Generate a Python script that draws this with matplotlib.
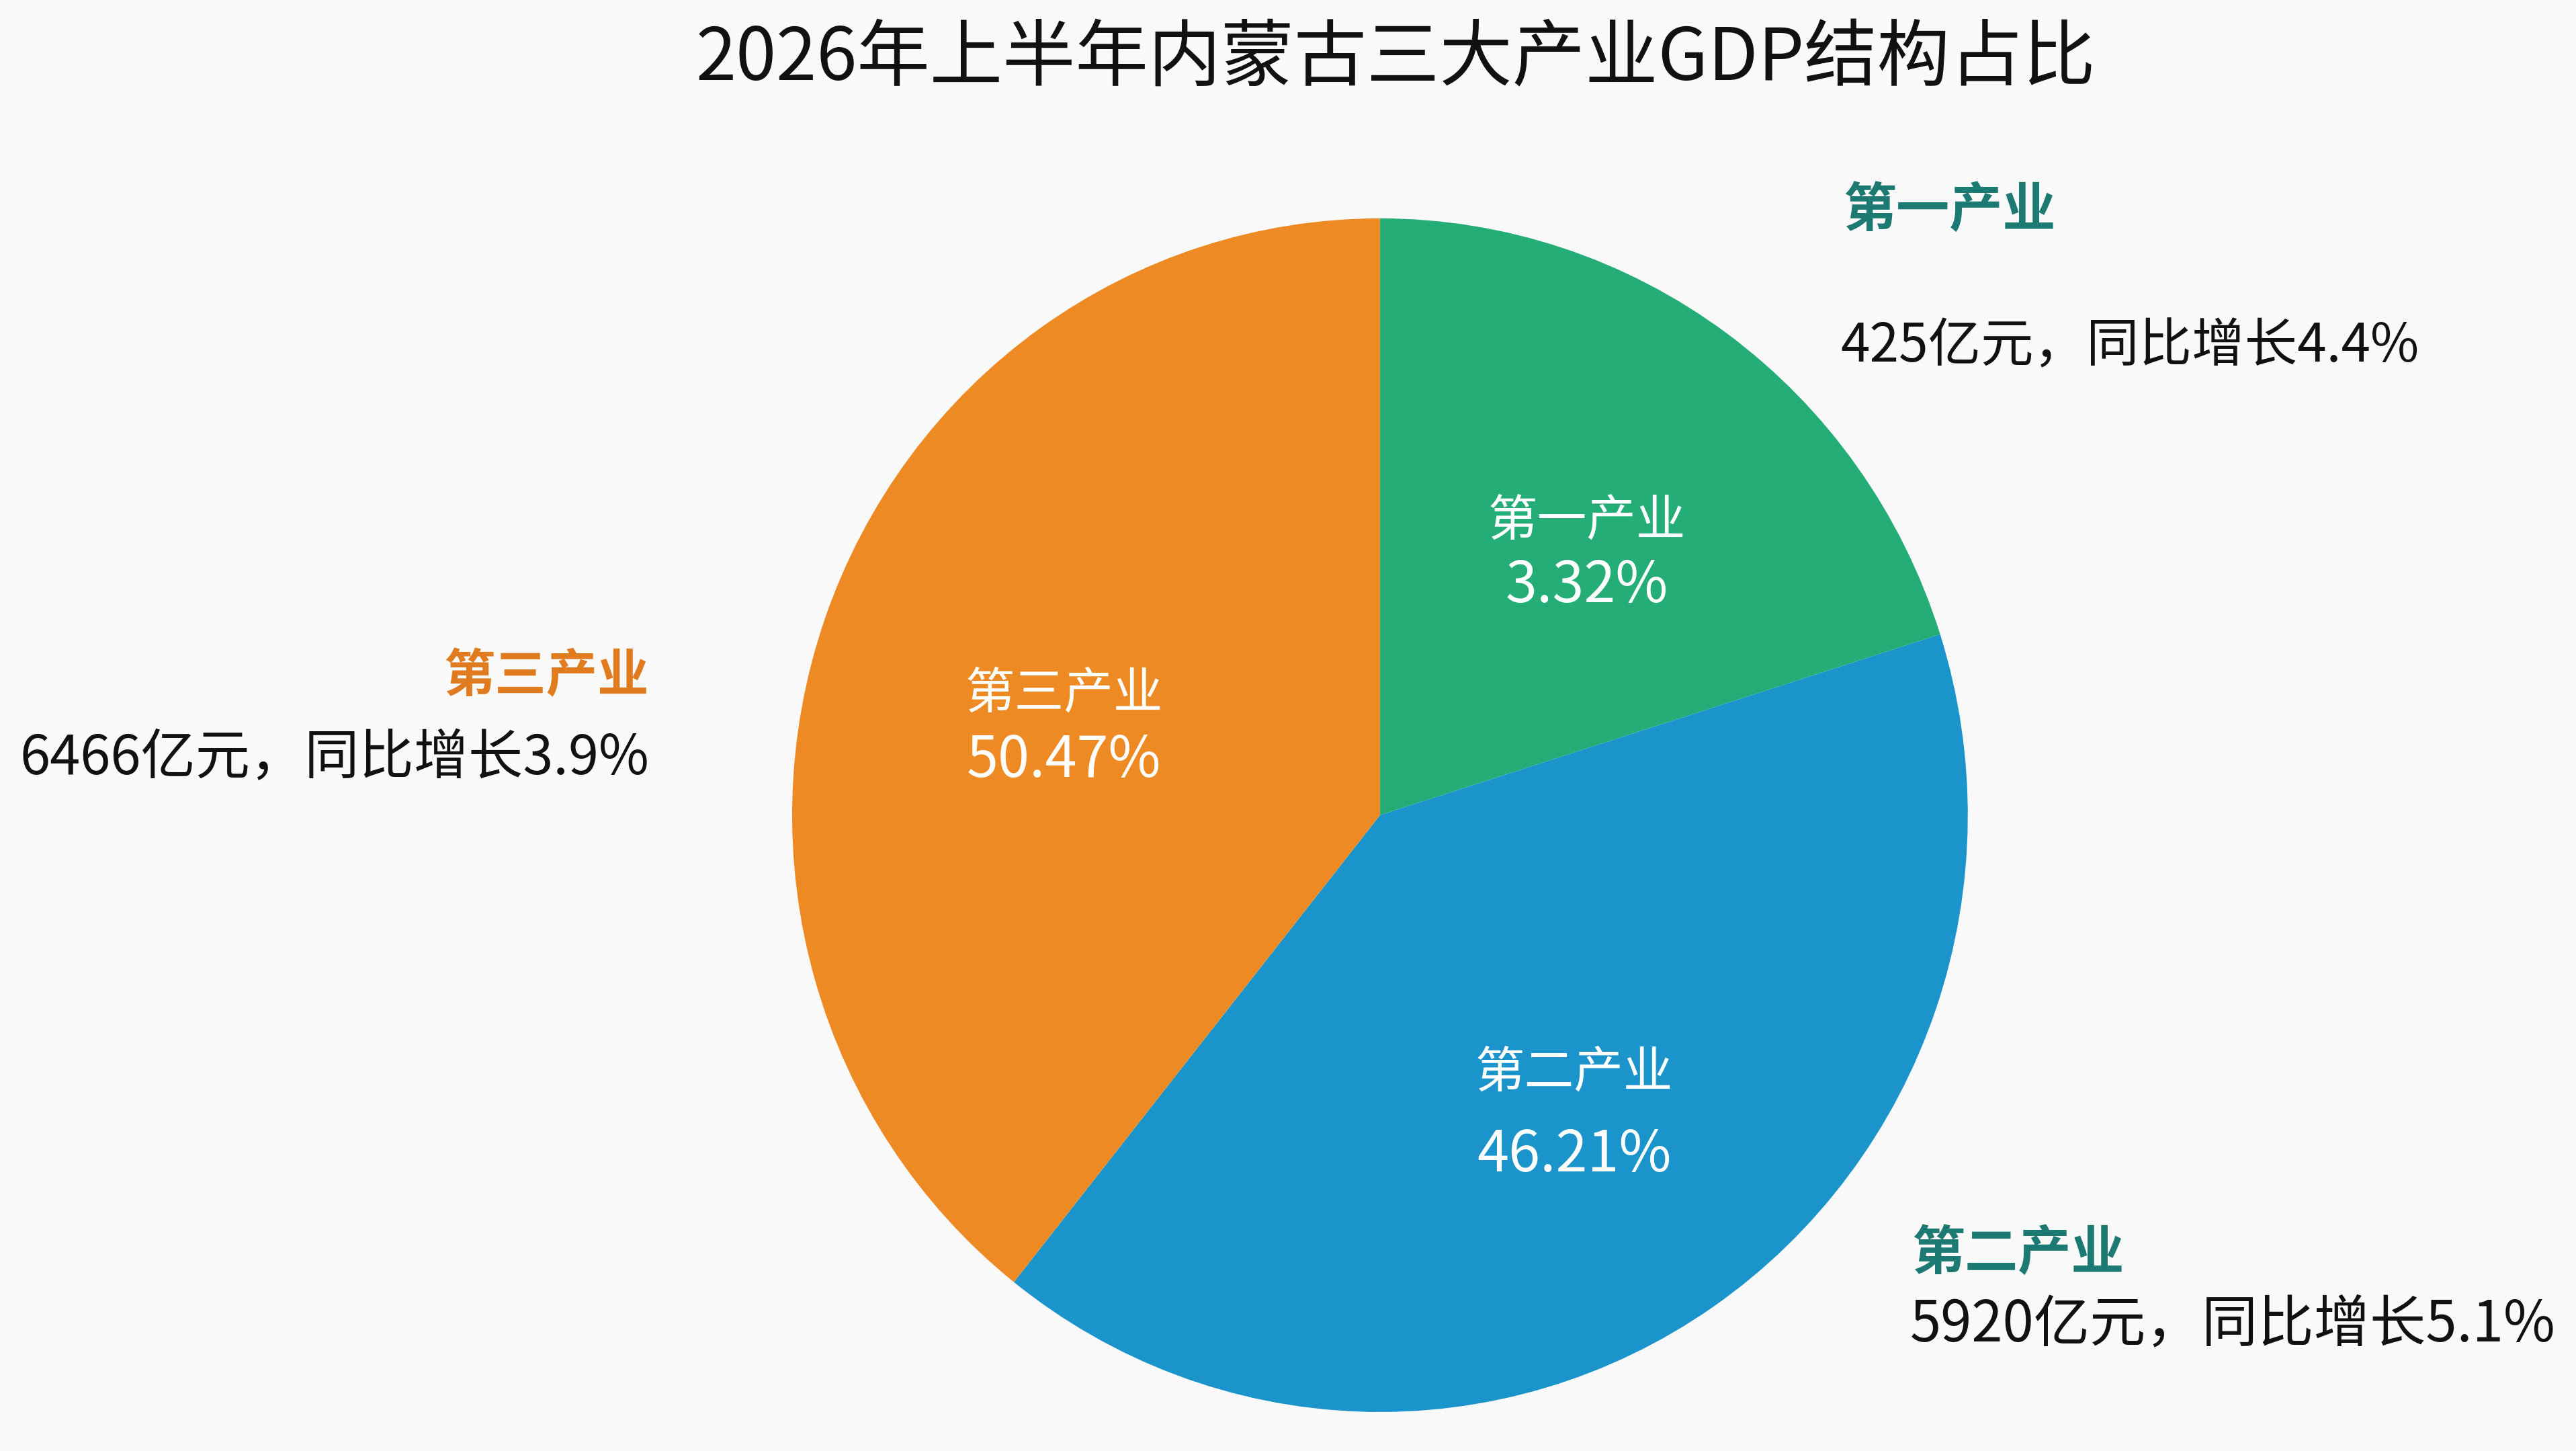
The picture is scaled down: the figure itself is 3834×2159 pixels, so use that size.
import matplotlib.pyplot as plt

plt.rcParams['font.family'] = ['Noto Sans CJK SC', 'DejaVu Sans']

# data
sectors = ['第一产业', '第二产业', '第三产业']
gdp = [425, 5920, 6466]            # 亿元
growth = [4.4, 5.1, 3.9]           # 同比增长 %
share_text = ['3.32%', '46.21%', '50.47%']
slice_share = [20.1, 40.6, 39.3]

colors = ['#24ad76', '#1a94cb', '#ee8a23']
title_colors = ['#1d7a73', '#1d7a73', '#e07b1f']

fig = plt.figure(figsize=(38.34, 21.59), dpi=100)
fig.patch.set_facecolor('#f9f9f9')

ax = fig.add_axes([0.3075, 0.0269, 0.4564, 0.8226])
ax.pie(slice_share, colors=colors, startangle=90, counterclock=False,
       radius=1.0, wedgeprops=dict(linewidth=0))
ax.set_xlim(-1, 1)
ax.set_ylim(-1, 1)
ax.set_aspect('auto')
ax.axis('off')

fig.text(0.542, 0.959, '2026年上半年内蒙古三大产业GDP结构占比',
         ha='center', va='center', fontsize=78, color='#111111')

# labels inside the slices (fig coords)
inner = [(0.616, 0.640, 0.596), (0.611, 0.260, 0.204), (0.413, 0.521, 0.476)]
for i, (x, y1, y2) in enumerate(inner):
    fig.text(x, y1, sectors[i], ha='center', va='center', fontsize=53, color='white')
    fig.text(x, y2, share_text[i], ha='center', va='center', fontsize=61, color='white')

# outer annotations
detail = ['%d亿元，同比增长%.1f%%' % (g, r) for g, r in zip(gdp, growth)]
fig.text(0.7155, 0.855, sectors[0], ha='left', va='center', fontsize=57,
         weight='bold', color=title_colors[0])
fig.text(0.7145, 0.761, detail[0], ha='left', va='center', fontsize=56.5, color='#111111')

fig.text(0.742, 0.136, sectors[1], ha='left', va='center', fontsize=57,
         weight='bold', color=title_colors[1])
fig.text(0.7415, 0.087, detail[1], ha='left', va='center', fontsize=60, color='#111111')

fig.text(0.252, 0.534, sectors[2], ha='right', va='center', fontsize=55,
         weight='bold', color=title_colors[2])
fig.text(0.252, 0.477, detail[2], ha='right', va='center', fontsize=58.5, color='#111111')

fig.savefig('out.png', dpi=100, facecolor=fig.get_facecolor())
